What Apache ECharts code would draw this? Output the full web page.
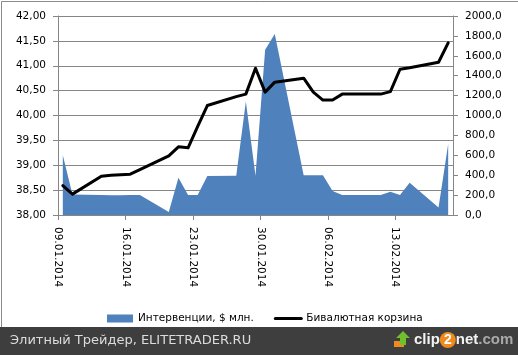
<!DOCTYPE html>
<html>
<head>
<meta charset="utf-8">
<script src="https://cdn.jsdelivr.net/npm/echarts@6/dist/echarts.min.js"></script>
<style>
html,body{margin:0;padding:0;background:#fff;}
#chart{width:518px;height:355px;}
</style>
</head>
<body>
<div id="chart"></div>
<script>
// ---- data ----
var dates = ['09.01.2014','10.01.2014','13.01.2014','14.01.2014','15.01.2014','16.01.2014','17.01.2014',
  '20.01.2014','21.01.2014','22.01.2014','23.01.2014','24.01.2014','27.01.2014','28.01.2014','29.01.2014',
  '30.01.2014','31.01.2014','03.02.2014','04.02.2014','05.02.2014','06.02.2014','07.02.2014','10.02.2014',
  '11.02.2014','12.02.2014','13.02.2014','14.02.2014','17.02.2014','18.02.2014'];
var interventions = [600,205,200,199,199,200,201,30,375,200,200,392,395,1140,395,1660,1820,
  400,400,400,240,200,200,200,234,200,325,75,713];
var basket = [38.59,38.42,38.78,38.80,38.81,38.82,38.91,39.19,39.37,39.35,39.78,40.20,40.38,40.43,40.95,
  40.47,40.67,40.75,40.47,40.31,40.31,40.43,40.43,40.43,40.48,40.93,40.96,41.07,41.46];
var seriesNames = ['Интервенции, $ млн.','Бивалютная корзина'];
var startDate = '09.01.2014';
var dayCount = 41;
var footerText = 'Элитный Трейдер, ELITETRADER.RU';

function toUTC(s){var p=s.split('.');return Date.UTC(+p[2],+p[1]-1,+p[0]);}
function dayIndex(s){return Math.round((toUTC(s)-toUTC(startDate))/86400000);}
function fmtDate(idx){
  var d=new Date(toUTC(startDate)+idx*86400000);
  var dd=('0'+d.getUTCDate()).slice(-2), mm=('0'+(d.getUTCMonth()+1)).slice(-2);
  return dd+'.'+mm+'.'+d.getUTCFullYear();
}
var areaData = dates.map(function(d,i){return [dayIndex(d)+0.5, interventions[i]];});
var lineData = dates.map(function(d,i){return [dayIndex(d)+0.5, basket[i]];});

var FONT = 'DejaVu Sans';
var axisGray = '#868686';
var chart = echarts.init(document.getElementById('chart'), null, {renderer:'canvas'});
chart.setOption({
  animation:false,
  backgroundColor:'#fff',
  textStyle:{fontFamily:FONT},
  grid:{left:58,right:65,top:16,bottom:140},
  legend:{
    left:102, top:308, itemWidth:26, itemHeight:8, itemGap:20,
    textStyle:{fontFamily:FONT,fontSize:10.5,color:'#000'},
    data:[{name:seriesNames[0],icon:'rect'},
          {name:seriesNames[1],itemStyle:{opacity:0},lineStyle:{width:3,color:'#000'}}]
  },
  xAxis:{
    type:'value', min:0, max:dayCount, interval:7,
    axisLine:{show:true,lineStyle:{color:axisGray}},
    axisTick:{show:true,length:5,lineStyle:{color:axisGray}},
    splitLine:{show:false},
    axisLabel:{rotate:-90, margin:12, fontSize:10.5, fontFamily:FONT, color:'#000',
      showMaxLabel:false, padding:[0,0,5,0],
      formatter:function(v){return v>=dayCount?'':fmtDate(v);}}
  },
  yAxis:[
    {type:'value', min:38, max:42, interval:0.5, position:'left',
     axisLine:{show:true,lineStyle:{color:axisGray}},
     axisTick:{show:true,length:5,lineStyle:{color:axisGray}},
     splitLine:{show:true,lineStyle:{color:axisGray,width:1}},
     axisLabel:{margin:12,fontSize:10.5,fontFamily:FONT,color:'#000',
       formatter:function(v){return v.toFixed(2).replace('.',',');}}},
    {type:'value', min:0, max:2000, interval:200, position:'right',
     axisLine:{show:true,lineStyle:{color:axisGray}},
     axisTick:{show:true,length:5,lineStyle:{color:axisGray}},
     splitLine:{show:false},
     axisLabel:{margin:12,fontSize:10.5,fontFamily:FONT,color:'#000',
       formatter:function(v){return v.toFixed(1).replace('.',',');}}}
  ],
  series:[
    {name:seriesNames[0], type:'line', yAxisIndex:1, data:areaData, symbol:'none',
     itemStyle:{color:'#4F81BD'},
     lineStyle:{width:0,color:'#4F81BD'}, areaStyle:{color:'#4F81BD',opacity:1}, z:1},
    {name:seriesNames[1], type:'line', yAxisIndex:0, data:lineData, symbol:'none',
     itemStyle:{color:'#000'},
     lineStyle:{width:3,color:'#000',join:'round',cap:'round'}, z:3}
  ],
  graphic:[
    {type:'rect', shape:{x:1.5,y:1.5,width:600,height:400}, style:{fill:'none',stroke:'#8a8a8a',lineWidth:1}, z:-1, silent:true},
    {type:'rect', shape:{x:0,y:327,width:518,height:28}, style:{fill:'#3e3e3e'}, z:10},
    {type:'text', x:10, y:341, style:{text:footerText, fill:'#dcdcdc', font:'13px "DejaVu Sans"', textVerticalAlign:'middle'}, z:11},
    // clip2net logo
    {type:'polygon', shape:{points:[[394,341],[404,341],[404,347],[394,347]]}, style:{fill:'#f08a1c'}, z:11},
    {type:'polygon', shape:{points:[[403,331],[410,338],[406,338],[406,345],[400,345],[400,338],[396,338]]}, style:{fill:'#6fbf2e'}, z:12},
    {type:'text', x:414, y:340, z:11, style:{
      text:'{a|clip}{b|2}{a|net}{c|.com}', textVerticalAlign:'middle',
      rich:{
        a:{fontFamily:'Liberation Sans',fontWeight:'bold',fontSize:15,fill:'#f2f2f2'},
        b:{fontFamily:'Liberation Sans',fontWeight:'bold',fontSize:14,fill:'#fff',backgroundColor:'#f08a1c',borderRadius:8,width:16,height:16,align:'center',lineHeight:16},
        c:{fontFamily:'Liberation Sans',fontWeight:'bold',fontSize:15,fill:'#a8a8a8'}
      }}}
  ]
});
</script>
</body>
</html>
